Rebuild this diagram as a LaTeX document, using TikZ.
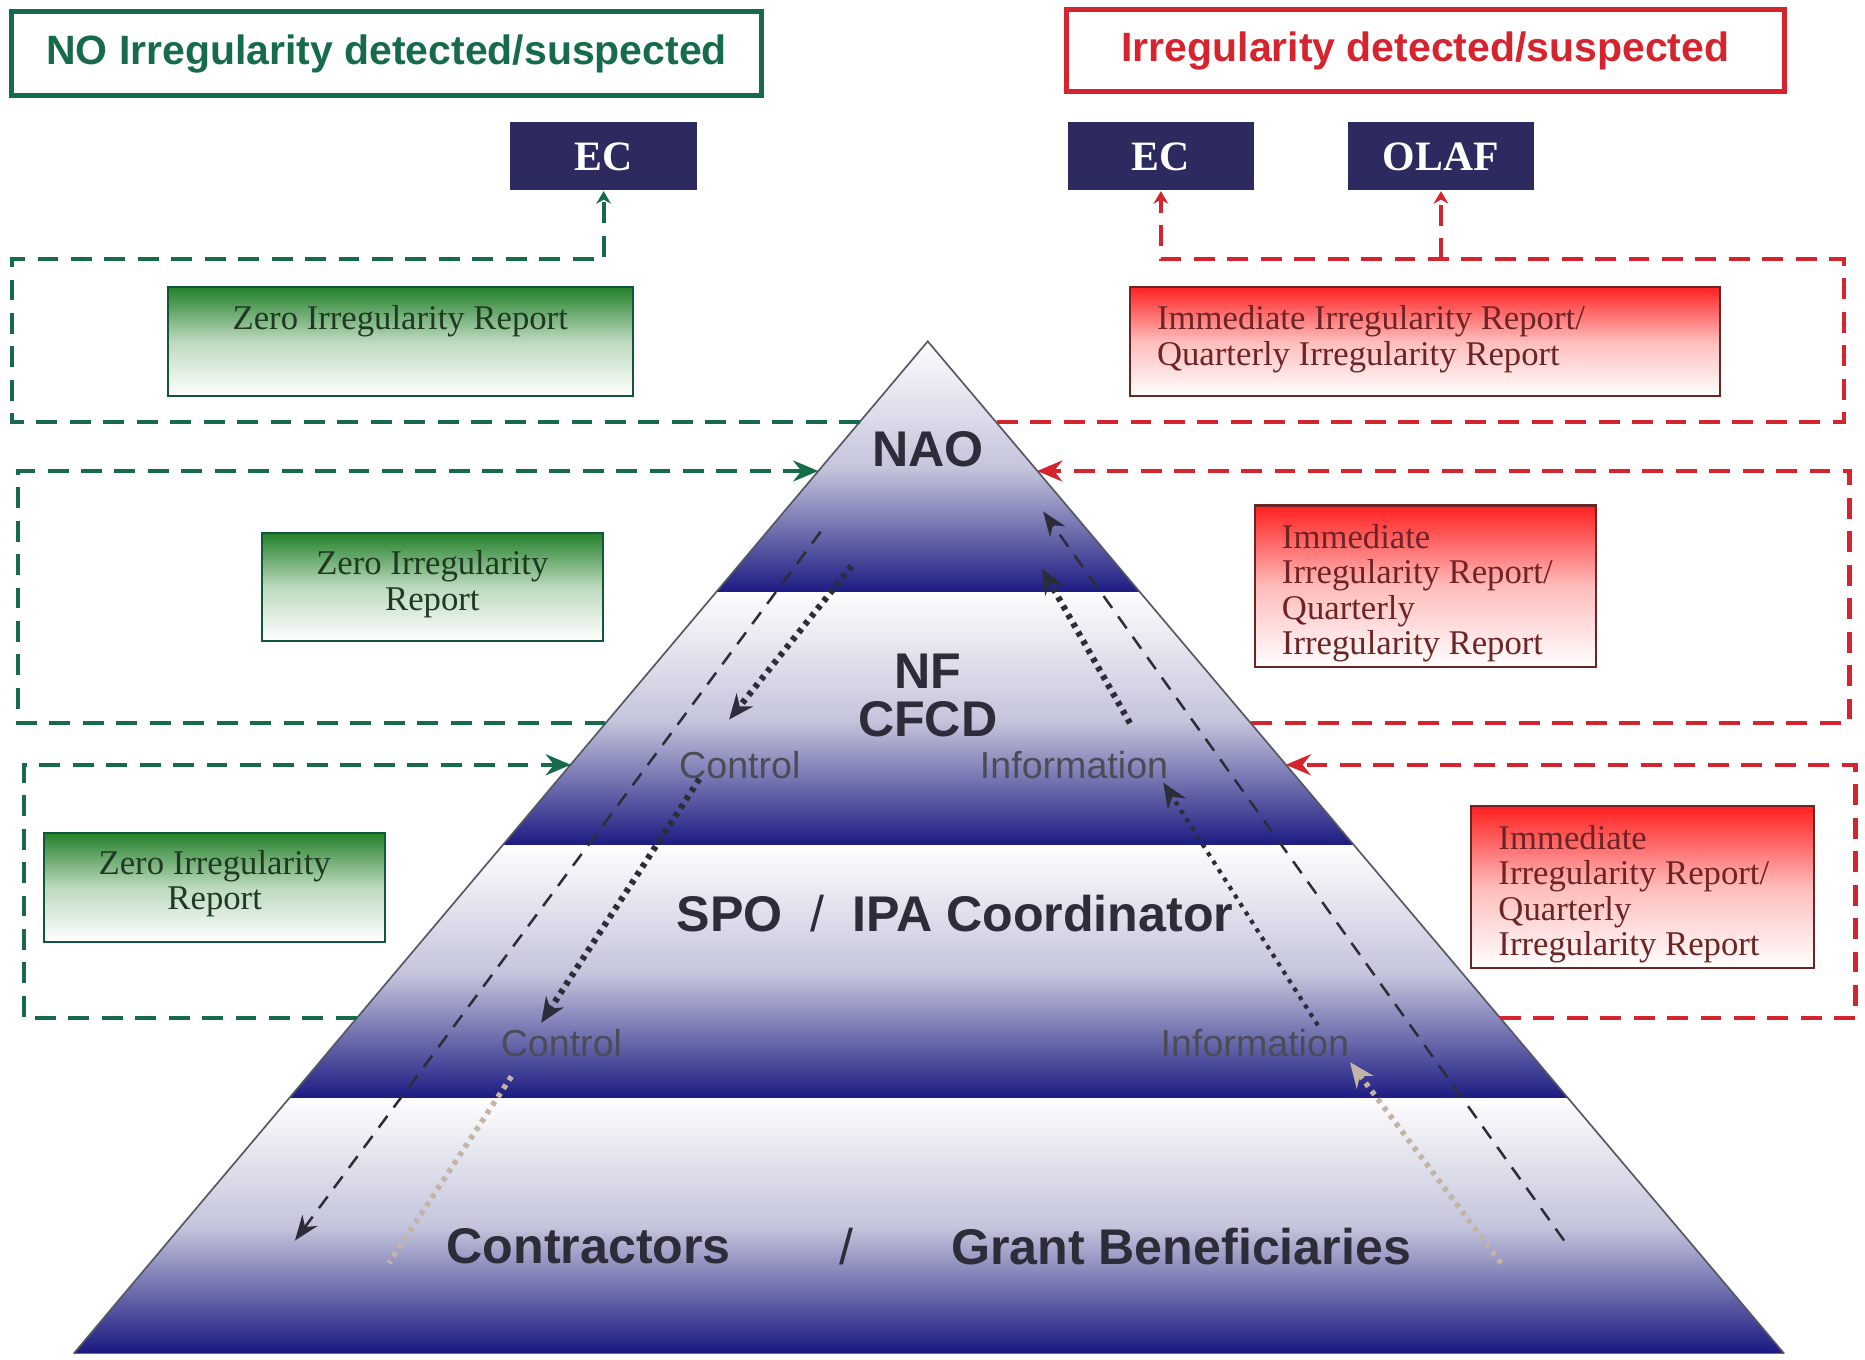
\documentclass[tikz,border=0pt]{standalone}
\usepackage{fontspec}
\setmainfont{Liberation Serif}
\setsansfont{Liberation Sans}
\usetikzlibrary{arrows.meta,positioning}
\usetikzlibrary{calc}

\definecolor{okgreen}{RGB}{22,108,74}
\definecolor{alertred}{RGB}{214,36,46}
\definecolor{ecblue}{RGB}{44,42,94}
\definecolor{navy}{RGB}{24,24,128}
\definecolor{lavender}{RGB}{196,196,220}
\definecolor{inkgray}{RGB}{45,45,58}
\definecolor{beige}{RGB}{196,180,165}
\definecolor{repgreen}{RGB}{34,128,40}
\definecolor{repred}{RGB}{255,32,32}
\definecolor{greentext}{RGB}{30,58,34}
\definecolor{redtext}{RGB}{110,36,36}

\begin{document}
\begin{tikzpicture}[x=0.1mm,y=-0.1mm,
      header/.style={
         draw,
         line width=1.2pt,
         inner sep=0pt,
         font=\sffamily\bfseries\fontsize{9.8}{12}\selectfont},
      agency/.style={
         fill=ecblue,
         text=white,
         inner sep=0pt,
         minimum width=15.7mm,
         minimum height=5.7mm,
         font=\bfseries\fontsize{10}{12}\selectfont},
      zerobox/.style={
         draw=okgreen!80!black,
         line width=0.5pt,
         top color=repgreen,
         bottom color=white,
         middle color=repgreen!30!white,
         inner sep=0pt},
      alertbox/.style={
         draw=redtext,
         line width=0.5pt,
         top color=repred,
         bottom color=white,
         middle color=repred!30!white,
         inner sep=0pt},
      zerotext/.style={text=greentext, align=center, inner sep=0pt,
         font=\fontsize{8.3}{8.5}\selectfont},
      alerttext/.style={text=redtext, align=left, inner sep=0pt,
         font=\fontsize{8.3}{8.5}\selectfont},
      band/.style={top color=white!96!lavender, bottom color=navy, middle color=lavender},
      lvl/.style={text=inkgray, inner sep=0pt,
         font=\sffamily\bfseries\fontsize{12}{11.5}\selectfont},
      flow/.style={text=inkgray!85, inner sep=0pt,
         font=\sffamily\fontsize{9}{11}\selectfont},
      okloop/.style={okgreen, line width=1pt, dash pattern=on 5pt off 3pt},
      alertloop/.style={alertred, line width=1pt, dash pattern=on 5pt off 3pt},
      smalltip/.style={-{Stealth[length=3pt,width=3.5pt]}},
      bigtip/.style={-{Stealth[length=6pt,width=5pt]}},
      longdash/.style={inkgray, line width=0.6pt, dash pattern=on 3.5pt off 2.5pt,
         -{Stealth[length=6pt,width=4.5pt]}},
      dotbold/.style={inkgray, line width=1.5pt, dash pattern=on 1.1pt off 1.3pt,
         -{Stealth[length=6pt,width=5pt]}},
      dotthin/.style={inkgray, line width=1pt, dash pattern=on 1pt off 1.4pt,
         -{Stealth[length=6pt,width=5pt]}},
      dotfaint/.style={beige, line width=1.3pt, dash pattern=on 1.1pt off 1.3pt}
      ]
    \useasboundingbox[fill=white] (0,0) rectangle (1568,1143);

    % pyramid
    \coordinate (apex) at (780,287);
    \coordinate (bl) at (62,1138);
    \coordinate (br) at (1500,1138);
    \foreach \a/\b in {0/0.25,0.25/0.5,0.5/0.75,0.75/1}
      \shade[band] ($(apex)!\a!(bl)$) -- ($(apex)!\b!(bl)$) -- ($(apex)!\b!(br)$) -- ($(apex)!\a!(br)$) -- cycle;
    \foreach \a in {0.25,0.5,0.75}
      \draw[white, line width=1pt] ($(apex)!\a!(bl)$) -- ($(apex)!\a!(br)$);
    \draw[inkgray!80, line width=0.4pt] (bl) -- (apex) -- (br);

    \node[lvl] (nao) at (780,378) {NAO};
    \node[lvl, align=center] (nf) at (780,585) {NF\\CFCD};
    \node[lvl] (spo) at (803,768) {SPO \ {\mdseries/} \ IPA Coordinator};
    \node[lvl] (contr) at (495,1048) {Contractors};
    \node[lvl, font=\sffamily\fontsize{12}{11.5}\selectfont] (slash) at (712,1048) {/};
    \node[lvl] (grant) at (993,1048) {Grant Beneficiaries};
    \node[flow] (ctrl1) at (622,643) {Control};
    \node[flow] (info1) at (903,643) {Information};
    \node[flow] (ctrl2) at (472,877) {Control};
    \node[flow] (info2) at (1055,877) {Information};

    % control and information flows
    \coordinate (c1a) at (690,447);  \coordinate (c1b) at (248,1043);
    \coordinate (c2a) at (716,476);  \coordinate (c2b) at (613,605);
    \coordinate (c3a) at (588,655);  \coordinate (c3b) at (455,860);
    \coordinate (c4a) at (430,905);  \coordinate (c4b) at (327,1062);
    \coordinate (i1a) at (1315,1043); \coordinate (i1b) at (877,430);
    \coordinate (i2a) at (950,608);  \coordinate (i2b) at (876,478);
    \coordinate (i3a) at (1108,862); \coordinate (i3b) at (978,658);
    \coordinate (i4a) at (1262,1062); \coordinate (i4b) at (1135,893);
    \foreach \s/\t/\st in {c1a/c1b/longdash, c2a/c2b/dotbold, c3a/c3b/dotbold,
      c4a/c4b/dotfaint, i1a/i1b/longdash, i2a/i2b/dotbold, i3a/i3b/dotthin}
       \draw[\st] (\s) -- (\t);
    \draw[dotfaint, -{Stealth[length=6pt,width=5pt]}] (i4a) -- (i4b);

    % headers and receivers
    \node[header, draw=okgreen, text=okgreen, minimum width=63mm, minimum height=7mm] (hdrok) at (325,45) {NO Irregularity detected/suspected};
    \node[header, draw=alertred, text=alertred, minimum width=60.3mm, minimum height=6.9mm] (hdralert) at (1198.5,42.5) {Irregularity detected/suspected};
    \node[agency] (ecok) at (507.5,131.5) {EC};
    \node[agency] (ecalert) at (976,131.5) {EC};
    \node[agency] (olaf) at (1211.5,131.5) {OLAF};

    % reports
    \node[zerobox, minimum width=39.1mm, minimum height=9.2mm] (zr1) at (336.5,287) {};
    \node[zerotext, below=1.6mm of zr1.north] (zt1) {Zero Irregularity Report};
    \node[zerobox, minimum width=28.7mm, minimum height=9.1mm] (zr2) at (363.5,493.5) {};
    \node[zerotext, below=1.5mm of zr2.north] (zt2) {Zero Irregularity\\Report};
    \node[zerobox, minimum width=28.7mm, minimum height=9.2mm] (zr3) at (180.5,746) {};
    \node[zerotext, below=1.5mm of zr3.north] (zt3) {Zero Irregularity\\Report};
    \node[alertbox, minimum width=49.6mm, minimum height=9.2mm] (ar1) at (1198,287) {};
    \node[alerttext, below right=1.6mm and 2.3mm of ar1.north west] (at1) {Immediate Irregularity Report/\\Quarterly Irregularity Report};
    \node[alertbox, minimum width=28.7mm, minimum height=13.6mm] (ar2) at (1198.5,493) {};
    \node[alerttext, below right=1.6mm and 2.3mm of ar2.north west] (at2) {Immediate\\Irregularity Report/\\Quarterly\\Irregularity Report};
    \node[alertbox, minimum width=28.8mm, minimum height=13.6mm] (ar3) at (1381,746) {};
    \node[alerttext, below right=1.6mm and 2.3mm of ar3.north west] (at3) {Immediate\\Irregularity Report/\\Quarterly\\Irregularity Report};

    % reporting loops
    \coordinate (ok1) at (723,355);    \coordinate (alert1) at (838,355);
    \coordinate (ok2in) at (688,396);  \coordinate (ok2out) at (509,608);
    \coordinate (ok3in) at (480,643);  \coordinate (ok3out) at (300,856);
    \coordinate (alert2in) at (872,396);  \coordinate (alert2out) at (1052,608);
    \coordinate (alert3in) at (1081,643); \coordinate (alert3out) at (1261,856);

    \draw[okloop, smalltip] (ok1) -| (10,218) -| (ecok.south);
    \draw[alertloop, smalltip] (alert1) -| (1550,218) coordinate (alertjoin) -| (ecalert.south);
    \draw[alertloop, smalltip] (olaf.south |- alertjoin) -- (olaf.south);
    \draw[okloop, bigtip] (ok2out) -| (15,396) -- (ok2in);
    \draw[okloop, bigtip] (ok3out) -| (20,643) -- (ok3in);
    \draw[alertloop, bigtip] (alert2out) -| (1555,396) -- (alert2in);
    \draw[alertloop, bigtip] (alert3out) -| (1560,643) -- (alert3in);

\end{tikzpicture}
\end{document}
